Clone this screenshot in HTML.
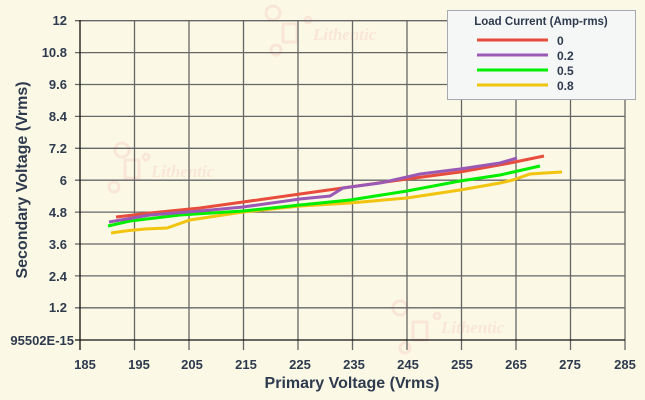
<!DOCTYPE html>
<html><head><style>html,body{margin:0;padding:0;background:#fbf9e5;}svg{display:block;font-family:"Liberation Sans",sans-serif;}</style></head>
<body>
<svg width="645" height="400" viewBox="0 0 645 400">
<rect width="645" height="400" fill="#fbf9e5"/>
<g fill="none" stroke="#fae6d6" stroke-width="3">
<circle cx="273" cy="13" r="7"/><rect x="283" y="24" width="14" height="18"/><circle cx="276" cy="50" r="5"/><circle cx="308" cy="20" r="3"/>
<circle cx="122" cy="150" r="7"/><rect x="125" y="160" width="14" height="18"/><circle cx="114" cy="187" r="5"/><circle cx="146" cy="157" r="3"/>
<circle cx="400" cy="308" r="7"/><rect x="413" y="322" width="14" height="18"/><circle cx="405" cy="348" r="5"/><circle cx="437" cy="316" r="3"/>
</g>
<g fill="#fae6d6" font-family="Liberation Serif,serif" font-style="italic" font-weight="bold" font-size="17">
<text x="313" y="40">Lithentic</text><text x="151" y="177">Lithentic</text><text x="441" y="333">Lithentic</text>
</g>
<g stroke="#666" stroke-width="1.3">
<line x1="134.5" y1="20" x2="134.5" y2="350"/><line x1="189" y1="20" x2="189" y2="350"/><line x1="243.5" y1="20" x2="243.5" y2="350"/><line x1="298" y1="20" x2="298" y2="350"/><line x1="352.5" y1="20" x2="352.5" y2="350"/><line x1="407" y1="20" x2="407" y2="350"/><line x1="461.5" y1="20" x2="461.5" y2="350"/><line x1="516" y1="20" x2="516" y2="350"/><line x1="570.5" y1="20" x2="570.5" y2="350"/><line x1="625" y1="20" x2="625" y2="350"/>
<line x1="75" y1="20.7" x2="625" y2="20.7"/><line x1="75" y1="52.6" x2="625" y2="52.6"/><line x1="75" y1="84.5" x2="625" y2="84.5"/><line x1="75" y1="116.4" x2="625" y2="116.4"/><line x1="75" y1="148.3" x2="625" y2="148.3"/><line x1="75" y1="180.2" x2="625" y2="180.2"/><line x1="75" y1="212.1" x2="625" y2="212.1"/><line x1="75" y1="244" x2="625" y2="244"/><line x1="75" y1="275.9" x2="625" y2="275.9"/><line x1="75" y1="307.8" x2="625" y2="307.8"/>
</g>
<line x1="80" y1="20" x2="80" y2="350" stroke="#111" stroke-width="1.3"/>
<line x1="75" y1="340" x2="625" y2="340" stroke="#111" stroke-width="1.3"/>
<g fill="#2e3a4e" font-weight="bold" font-size="13" text-anchor="end">
<text x="67" y="25">12</text><text x="67" y="57">10.8</text><text x="67" y="89">9.6</text><text x="67" y="121">8.4</text><text x="67" y="153">7.2</text><text x="67" y="185">6</text><text x="67" y="217">4.8</text><text x="67" y="249">3.6</text><text x="67" y="281">2.4</text><text x="67" y="312">1.2</text><text x="74" y="345">95502E-15</text>
</g>
<g fill="#2e3a4e" font-weight="bold" font-size="13" text-anchor="middle">
<text x="85" y="369">185</text><text x="139" y="369">195</text><text x="192" y="369">205</text><text x="246" y="369">215</text><text x="300" y="369">225</text><text x="354" y="369">235</text><text x="408" y="369">245</text><text x="462" y="369">255</text><text x="516" y="369">265</text><text x="570" y="369">275</text><text x="625" y="369">285</text>
</g>
<text x="352" y="388" fill="#2e3a4e" font-weight="bold" font-size="16" text-anchor="middle">Primary Voltage (Vrms)</text>
<text transform="translate(27,180) rotate(-90)" fill="#2e3a4e" font-weight="bold" font-size="16" text-anchor="middle">Secondary Voltage (Vrms)</text>
<g fill="none" stroke-width="3">
<polyline stroke="#f1c40f" points="111,233 125,231 145,229 167,228 190,220 243,212 300,206 350,203 407,198 460,190 500,183 513,180 530,174 545,173 562,172"/>
<polyline stroke="#00ee00" points="108,226 130,221 180,215 243,211 300,205 350,200 407,191 460,181 500,175 540,166"/>
<polyline stroke="#e74c3c" points="116,217 150,213 200,208 243,202 300,194 350,187 407,179 460,172 510,163 544,156"/>
<polyline stroke="#9b59b6" points="109,222 150,215 200,211 243,207 300,199 330,196 343,188 380,183 407,177 420,174 460,169 500,163 517,158"/>
</g>
<rect x="447.5" y="10.5" width="188" height="89" fill="#f5f6f6" stroke="#a5aab2" stroke-width="1"/>
<text x="541" y="25" fill="#2e3a4e" font-weight="bold" font-size="11.5" text-anchor="middle">Load Current (Amp-rms)</text>
<g stroke-width="3"><line x1="477" y1="40" x2="548" y2="40" stroke="#e74c3c"/><line x1="477" y1="55" x2="548" y2="55" stroke="#9b59b6"/><line x1="477" y1="70" x2="548" y2="70" stroke="#00ee00"/><line x1="477" y1="85" x2="548" y2="85" stroke="#f1c40f"/></g>
<g fill="#2e3a4e" font-weight="bold" font-size="12"><text x="557" y="45">0</text><text x="557" y="60">0.2</text><text x="557" y="75">0.5</text><text x="557" y="90">0.8</text></g>
</svg>
</body></html>
